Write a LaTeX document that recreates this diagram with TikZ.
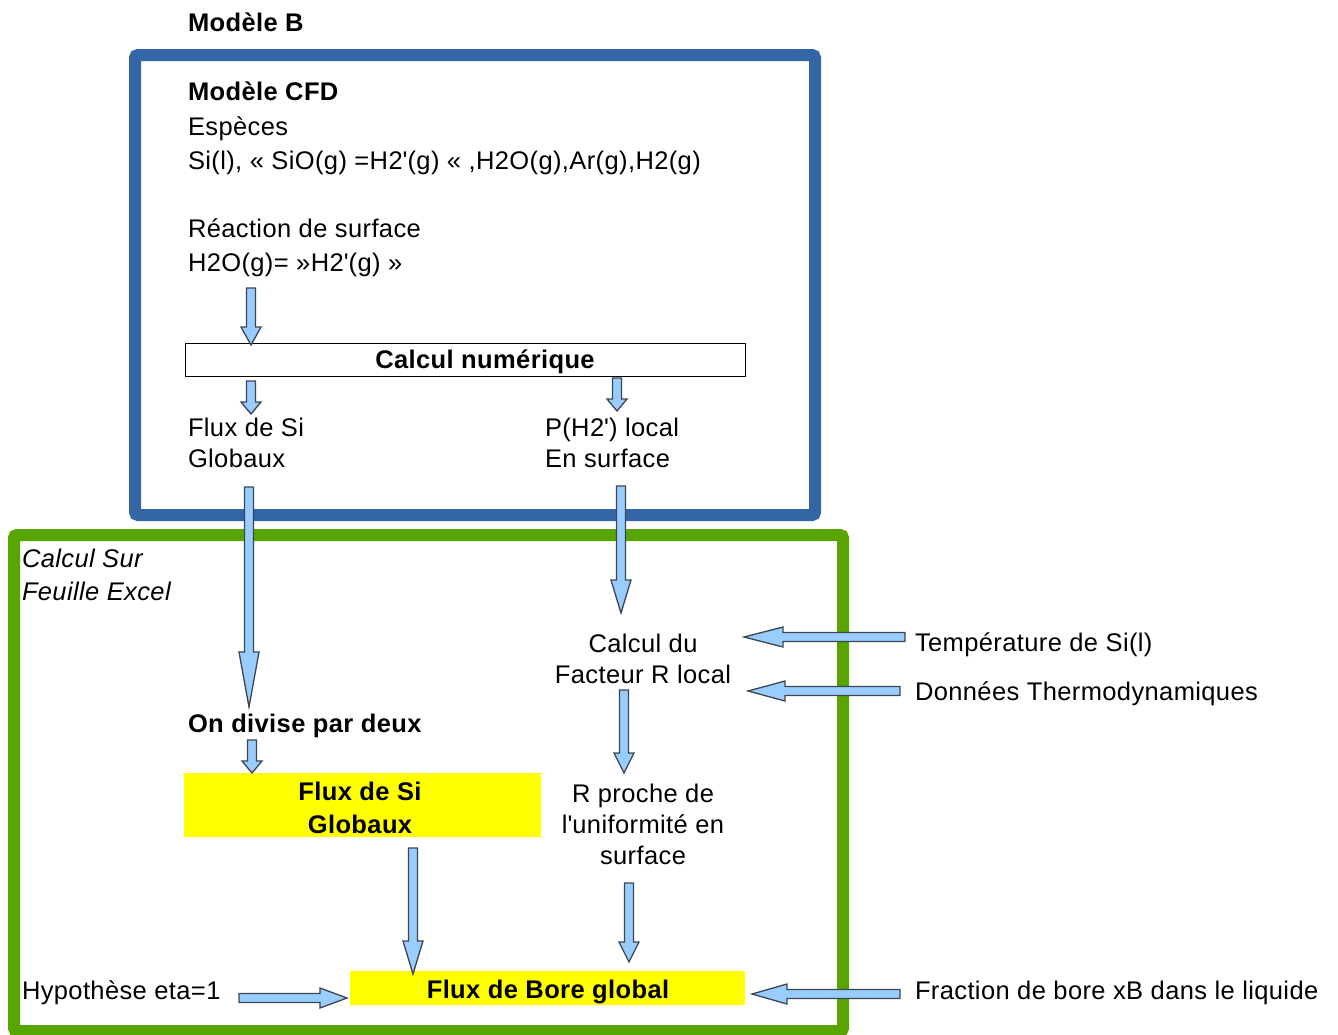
\documentclass[tikz,border=0pt]{standalone}
\usepackage{fontspec}
\setmainfont{Liberation Sans}[LetterSpace=1.5]
\usetikzlibrary{calc}
\definecolor{bluebox}{HTML}{3465A4}
\definecolor{greenbox}{HTML}{58A500}
\definecolor{arrowfill}{HTML}{99CCFF}
\definecolor{arrowline}{HTML}{3C4650}
\definecolor{hl}{HTML}{FFFF00}
\newcommand{\barrow}[3]{%
  \coordinate (tmpH) at ($(#2)!#3!(#1)$);
  \draw[barrowstyle] ($(#1)!4.5pt!90:(#2)$) -- ($(tmpH)!4.5pt!90:(#2)$) -- ($(tmpH)!10pt!90:(#2)$) -- (#2)
    -- ($(tmpH)!10pt!-90:(#2)$) -- ($(tmpH)!4.5pt!-90:(#2)$) -- ($(#1)!4.5pt!-90:(#2)$) -- cycle;}
\newcommand{\sq}{\textquotesingle}
\begin{document}
\begin{tikzpicture}[x=1pt,y=-1pt,
  every node/.style={inner sep=0pt, outer sep=0pt, font=\fontsize{25.5}{31}\selectfont},
  txt/.style={anchor=base west, align=left},
  ctxt/.style={anchor=base, align=center},
  bold/.style={font=\fontsize{25.5}{33}\selectfont\bfseries},
  barrowstyle/.style={fill=arrowfill, draw=arrowline, line width=1.3pt, line join=miter},
  frame/.style={line width=12pt, rounded corners=3pt, fill=none}]
\useasboundingbox (0,0) rectangle (1338,1034);

% frames
\node[frame, draw=bluebox, minimum width=680, minimum height=460] (cfdbox) at (475,285) {};
\node[frame, draw=greenbox, minimum width=829, minimum height=496] (excelbox) at (428.5,783) {};

% texts in blue frame
\node[txt, bold] (modB) at (188,31) {Modèle B};
\node[txt, bold] (modCFD) at (188,100) {Modèle CFD};
\node[txt] (esp) at (188,135) {Espèces};
\node[txt] (species) at (188,169) {Si(l), « SiO(g) =H2\sq(g) « ,H2O(g),Ar(g),H2(g)};
\node[txt] (reac) at (188,237) {Réaction de surface};
\node[txt] (reacEq) at (188,271) {H2O(g)= »H2\sq(g) »};
\node[draw=black, line width=1pt, minimum width=560, minimum height=33] (calcnum) at (465,359.5) {};
\node[ctxt, bold] (calcnumT) at (485,368) {Calcul numérique};
\node[txt] (fluxSi) at (188,467) {Flux de Si\\Globaux};
\node[txt] (pH2) at (545,467) {P(H2\sq) local\\En surface};

% texts in green frame
\node[txt, font=\fontsize{25.5}{33}\selectfont\itshape] (excel) at (22,600) {Calcul Sur\\Feuille Excel};
\node[ctxt] (facteurR) at (643,683) {Calcul du\\Facteur R local};
\node[txt] (temp) at (915,651) {Température de Si(l)};
\node[txt] (thermo) at (915,700) {Données Thermodynamiques};
\node[txt, bold] (divise) at (188,732) {On divise par deux};
\node[fill=hl, minimum width=357, minimum height=64] (fluxSiBox) at (362.5,805) {};
\node[ctxt, bold] (fluxSiT) at (360,833) {Flux de Si\\Globaux};
\node[ctxt] (Rproche) at (643,864) {R proche de\\l\sq uniformité en\\surface};
\node[fill=hl, minimum width=395, minimum height=34] (boreBox) at (547.5,988) {};
\node[ctxt, bold] (boreT) at (548,998) {Flux de Bore global};
\node[txt] (hyp) at (22,999) {Hypothèse eta=1};
\node[txt] (fraction) at (915,999) {Fraction de bore xB dans le liquide};

% arrow end points
\coordinate (a1s) at (251,288); \coordinate (a1e) at (251,345);
\coordinate (a2s) at (251,381); \coordinate (a2e) at (251,414);
\coordinate (a3s) at (617,378); \coordinate (a3e) at (617,411);
\coordinate (a4s) at (249,487); \coordinate (a4e) at (249,707);
\coordinate (a5s) at (621,486); \coordinate (a5e) at (621,613);
\coordinate (a6s) at (905,637); \coordinate (a6e) at (744,637);
\coordinate (a7s) at (900,691); \coordinate (a7e) at (748,691);
\coordinate (a8s) at (624,690); \coordinate (a8e) at (624,773);
\coordinate (a9s) at (252,740); \coordinate (a9e) at (252,773);
\coordinate (a10s) at (413,848); \coordinate (a10e) at (413,974);
\coordinate (a11s) at (629,883); \coordinate (a11e) at (629,962);
\coordinate (a12s) at (239,998); \coordinate (a12e) at (347,998);
\coordinate (a13s) at (900,994); \coordinate (a13e) at (752,994);

\barrow{a1s}{a1e}{18pt}
\barrow{a2s}{a2e}{12pt}
\barrow{a3s}{a3e}{12pt}
\barrow{a4s}{a4e}{55pt}
\barrow{a5s}{a5e}{33pt}
\barrow{a6s}{a6e}{39pt}
\barrow{a7s}{a7e}{37pt}
\barrow{a8s}{a8e}{20pt}
\barrow{a9s}{a9e}{12pt}
\barrow{a10s}{a10e}{33pt}
\barrow{a11s}{a11e}{20pt}
\barrow{a12s}{a12e}{27pt}
\barrow{a13s}{a13e}{35pt}
\end{tikzpicture}
\end{document}
